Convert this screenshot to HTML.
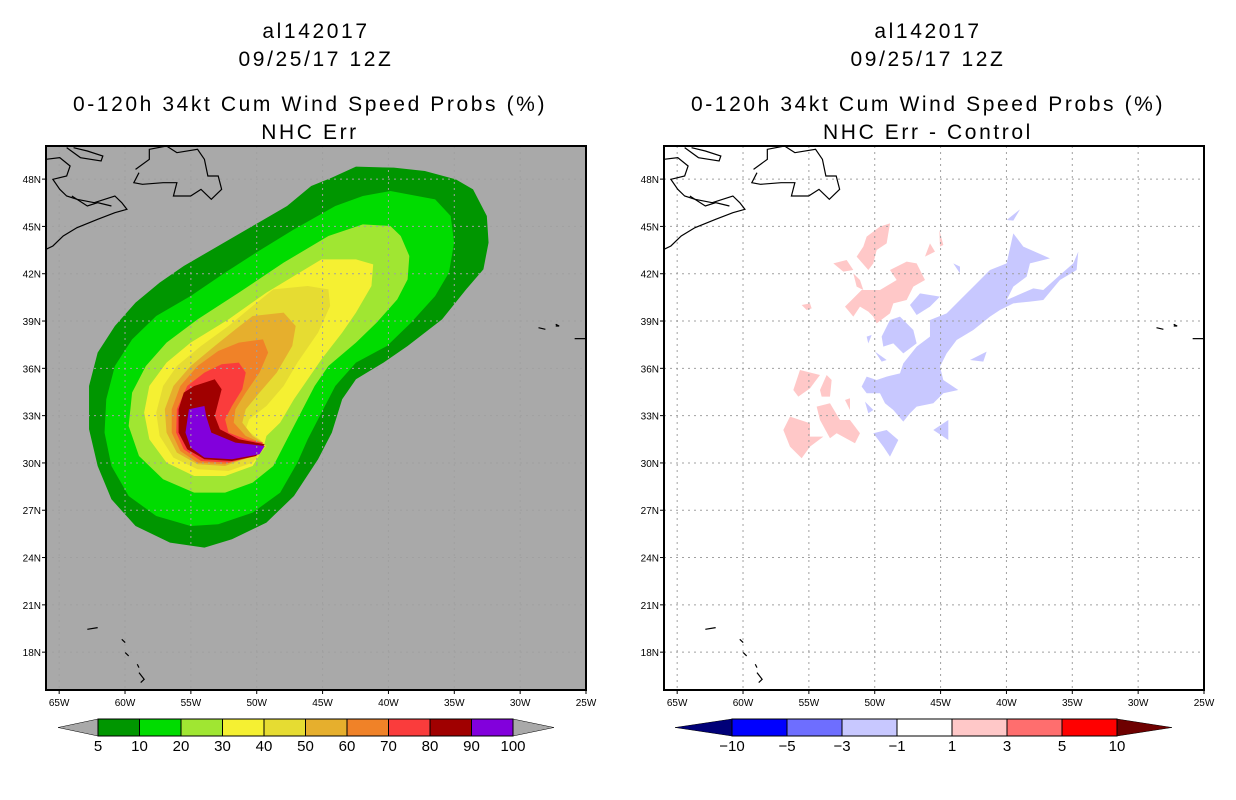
<!DOCTYPE html>
<html><head><meta charset="utf-8"><style>
body{margin:0;background:#fff;width:1236px;height:800px;overflow:hidden}
svg{display:block}
text{font-family:"Liberation Sans",sans-serif;fill:#000}
.t{font-size:21px;letter-spacing:2.6px}
.ax{font-size:10px}
.cb{font-size:15px}
</style></head><body>
<svg id="s" width="1236" height="800">
<defs>
<g id="coast" fill="none" stroke="#000" stroke-width="1.2" transform="scale(0.3444,0.3333)">
<g style="vector-effect:non-scaling-stroke">
<polyline vector-effect="non-scaling-stroke" points="260,70 300,40 300,10 350,0 380,20 440,10 460,40 470,90 500,90 510,130 480,160 450,130 420,150 370,150 380,110 340,110 280,115 255,110 270,80"/>
<polyline vector-effect="non-scaling-stroke" points="0,40 40,35 70,60 60,90 20,100 40,130 60,150 90,160 140,170 200,150 220,170 235,190 200,200 150,220 90,245 50,270 20,300 0,310"/>
<polyline vector-effect="non-scaling-stroke" points="60,5 100,35 160,45 165,30 120,15 80,5"/>
<polyline vector-effect="non-scaling-stroke" points="75,150 120,180 150,170 190,180"/>
<polyline vector-effect="non-scaling-stroke" points="1430,545 1450,550"/><polyline vector-effect="non-scaling-stroke" points="1480,535 1490,540 1480,540"/><polyline vector-effect="non-scaling-stroke" points="1535,578 1568,578"/>
<polyline vector-effect="non-scaling-stroke" points="120,1450 150,1445"/><polyline vector-effect="non-scaling-stroke" points="220,1480 230,1490"/><polyline vector-effect="non-scaling-stroke" points="230,1520 240,1530"/><polyline vector-effect="non-scaling-stroke" points="265,1555 270,1565"/><polyline vector-effect="non-scaling-stroke" points="270,1580 285,1600 275,1610"/>
</g>
</g>
</defs>
<g id="left">
<rect x="46" y="146" width="540" height="544" fill="#a9a9a9"/>
<g id="contours" transform="translate(46,146) scale(0.3444,0.3333)"></g>
</g>
<g id="right">
<rect x="664" y="146" width="540" height="544" fill="#fff"/>
<g id="diff" transform="translate(730,180) scale(0.3333)"></g>
</g>
<g id="grids"></g>
<use href="#coast" x="46" y="146"/>
<use href="#coast" x="664" y="146"/>
<rect x="46" y="146" width="540" height="544" fill="none" stroke="#000" stroke-width="2"/>
<rect x="664" y="146" width="540" height="544" fill="none" stroke="#000" stroke-width="2"/>
<text class="t" x="316" y="38" text-anchor="middle">al142017</text>
<text class="t" x="316" y="66" text-anchor="middle">09/25/17 12Z</text>
<text class="t" x="310" y="111" text-anchor="middle">0-120h 34kt Cum Wind Speed Probs (%)</text>
<text class="t" x="310" y="139" text-anchor="middle">NHC Err</text>
<text class="t" x="928" y="38" text-anchor="middle">al142017</text>
<text class="t" x="928" y="66" text-anchor="middle">09/25/17 12Z</text>
<text class="t" x="928" y="111" text-anchor="middle">0-120h 34kt Cum Wind Speed Probs (%)</text>
<text class="t" x="928" y="139" text-anchor="middle">NHC Err - Control</text>
<g id="cbars"></g>
</svg>
<script>
const lonTicks=[-65,-60,-55,-50,-45,-40,-35,-30,-25];
const lonLabels=["65W","60W","55W","50W","45W","40W","35W","30W","25W"];
const latTicks=[18,21,24,27,30,33,36,39,42,45,48];
const latLabels=["18N","21N","24N","27N","30N","33N","36N","39N","42N","45N","48N"];
const probLevels=["5","10","20","30","40","50","60","70","80","90","100"];
const probColors=["#009600","#00dc00","#a0e632","#f5f032","#e6dc32","#e6af2d","#f08228","#fa3c3c","#a00000","#8200dc"];
const diffLevels=["-10","-5","-3","-1","1","3","5","10"];
const diffColors=["#0000ff","#6e6eff","#c8c8ff","#ffffff","#ffc8c8","#ff6e6e","#ff0000"];
const diffEnds=["#000078","#6e0000"];
const ring5=[[830,95],[900,62],[1010,65],[1100,75],[1190,100],[1240,130],[1280,210],[1285,290],[1270,370],[1220,430],[1150,520],[1050,600],[980,650],[900,700],[860,760],[830,860],[790,940],[720,1050],[640,1130],[540,1180],[460,1205],[360,1190],[260,1140],[190,1060],[150,960],[125,850],[125,720],[150,620],[200,540],[260,470],[330,410],[400,360],[500,300],[600,240],[700,180],[770,120]];
const ring10=[[840,180],[920,150],[1000,135],[1130,160],[1175,210],[1185,290],[1170,380],[1130,450],[1060,530],[990,600],[900,650],[840,720],[800,800],[760,880],[730,950],[680,1040],[600,1100],[500,1135],[420,1140],[320,1110],[240,1050],[190,960],[170,860],[175,760],[200,660],[250,580],[320,510],[420,450],[520,380],[610,320],[720,250]];
const ring20=[[820,270],[920,235],[1000,240],[1030,270],[1055,330],[1050,400],[1020,460],[960,530],[900,590],[820,660],[780,720],[740,800],[700,880],[660,960],[600,1010],[520,1040],[430,1040],[340,1000],[270,930],[240,840],[250,740],[290,660],[350,590],[440,520],[560,440],[690,350]];
const ring30=[[800,340],[900,340],[950,355],[945,420],[900,500],[860,560],[800,640],[760,700],[720,760],[680,830],[640,870],[630,910],[600,960],[520,990],[430,990],[350,950],[300,880],[285,800],[300,720],[350,650],[420,590],[530,520],[640,440],[720,390]];
const ring40=[[660,430],[760,420],[820,430],[825,480],[790,560],[730,650],[690,720],[640,780],[590,820],[580,850],[620,880],[640,900],[600,950],[530,975],[440,970],[370,935],[330,870],[320,800],[340,720],[380,660],[450,600],[530,540],[600,480]];
const ring50=[[600,510],[690,500],[725,540],[715,600],[670,680],[620,740],[580,790],[570,830],[600,870],[630,890],[600,930],[520,960],[440,955],[380,920],[350,860],[345,790],[370,720],[420,660],[490,600],[550,550]];
const ring60=[[560,590],[630,580],[645,620],[620,680],[580,740],[550,790],[545,830],[580,870],[625,890],[600,930],[520,955],[440,950],[390,915],[365,860],[365,790],[390,720],[440,660],[500,615]];
const ring70=[[510,655],[560,650],[580,680],[570,730],[540,780],[520,820],[530,860],[580,880],[630,890],[610,930],[530,950],[450,945],[400,910],[378,860],[380,790],[410,720],[460,680]];
const ring80=[[430,720],[490,700],[510,730],[500,770],[490,810],[505,850],[560,880],[635,895],[610,930],[540,945],[460,940],[410,910],[385,860],[385,790],[400,740]];
const ring90=[[415,790],[460,780],[465,810],[480,860],[550,890],[635,900],[620,925],[540,940],[460,935],[420,905],[405,860]];
const blueBlobs=[
[[850,160],[880,200],[960,235],[900,250],[890,290],[850,320],[830,360],[910,325],[940,330],[990,285],[1030,250],[1045,215],[1040,270],[990,300],[940,360],[900,365],[850,370],[810,390],[780,410],[730,450],[680,480],[650,520],[630,560],[640,600],[685,630],[640,640],[610,670],[560,680],[540,700],[520,725],[490,690],[465,670],[450,640],[410,640],[395,620],[410,590],[440,600],[470,590],[510,580],[520,550],[560,500],[600,470],[600,420],[650,400],[690,360],[740,310],[780,270],[830,250]],
[[480,420],[510,410],[550,450],[560,490],[520,520],[490,490],[460,500],[455,470]],
[[540,375],[570,340],[630,350],[600,380],[560,405]],
[[430,760],[470,750],[505,780],[480,830],[460,800]],
[[610,750],[655,720],[655,780]],
[[405,665],[430,690],[415,700]],
[[720,540],[770,515],[760,545]],
[[830,120],[870,88],[850,122]],
[[670,250],[690,260],[690,280]],[[410,470],[425,465],[415,490]],[[435,515],[470,540],[455,545]]];
const pinkBlobs=[
[[160,750],[180,710],[240,730],[240,770],[280,770],[240,800],[215,835],[180,800]],
[[260,680],[300,670],[330,720],[360,720],[390,760],[375,790],[320,760],[300,775],[270,720]],
[[190,630],[210,570],[270,585],[240,625],[205,650]],
[[270,630],[290,585],[305,600],[300,650],[275,650]],
[[345,380],[380,345],[395,330],[450,330],[500,300],[480,270],[530,245],[560,250],[585,300],[550,320],[530,360],[490,370],[480,400],[440,430],[430,410],[415,395],[390,380],[370,410]],
[[380,230],[400,200],[410,170],[450,140],[480,130],[470,190],[440,210],[430,250],[415,270]],
[[310,250],[350,240],[370,270],[340,275]],
[[370,280],[390,300],[400,330],[380,320]],
[[585,230],[600,190],[615,215]],
[[628,150],[640,195],[630,200]],
[[215,375],[240,370],[245,385],[230,390]],[[345,660],[360,655],[360,690]]];

const NS='http://www.w3.org/2000/svg';
function mk(tag,attrs,parent){const e=document.createElementNS(NS,tag);for(const k in attrs)e.setAttribute(k,attrs[k]);parent.appendChild(e);return e;}
const pts=r=>r.map(p=>p.join(',')).join(' ');
const L0=-66,L1=-25,B0=15.6,B1=50.1,W=540,H=544,T=146;
const xL=(lon,x0)=>x0+(lon-L0)/(L1-L0)*W;
const yL=lat=>T+(B1-lat)/(B1-B0)*H;

const cg=document.getElementById('contours');
const rings=[ring5,ring10,ring20,ring30,ring40,ring50,ring60,ring70,ring80,ring90];
rings.forEach((r,i)=>{
 const p=mk('polygon',{points:pts(r),fill:probColors[i],'stroke-linejoin':'round'},cg);
 
 
});
const dg=document.getElementById('diff');
blueBlobs.forEach(r=>{const p=mk('polygon',{points:pts(r),fill:'#c8c8ff'},dg);
 
 });
pinkBlobs.forEach(r=>{const p=mk('polygon',{points:pts(r),fill:'#ffc8c8'},dg);
 
 });

const gg=document.getElementById('grids');
[46,664].forEach((x0,pi)=>{
 lonTicks.forEach((lon,i)=>{
  const x=xL(lon,x0);
  if(lon>-66&&lon<-25){const g=mk('line',{x1:x,x2:x,y1:T,y2:T+H,stroke:'#a0a0a0','stroke-dasharray':'2,4'},gg);
   
   }
  const tk=mk('line',{x1:x,x2:x,y1:T+H,y2:T+H+4,stroke:'#000'},gg);
  
  
  const t=mk('text',{x:x,y:T+H+16,'text-anchor':'middle',class:'ax'},gg);t.textContent=lonLabels[i];
  
  
 });
 latTicks.forEach((lat,i)=>{
  const y=yL(lat);
  const g=mk('line',{x1:x0,x2:x0+W,y1:y,y2:y,stroke:'#a0a0a0','stroke-dasharray':'2,4'},gg);
  
  
  const tk=mk('line',{x1:x0-4,x2:x0,y1:y,y2:y,stroke:'#000'},gg);
  
  
  const t=mk('text',{x:x0-5,y:y+4,'text-anchor':'end',class:'ax'},gg);t.textContent=latLabels[i];
  
  
 });
});

const cb=document.getElementById('cbars');
function colorbar(x0,x1,tipL,tipR,colors,labels,endL,endR,name){
 const y0=719,y1=736,w=(x1-x0)/colors.length,ym=(y0+y1)/2;
 const a=mk('polygon',{points:`${tipL},${ym} ${x0},${y0} ${x0},${y1}`,fill:endL,stroke:'#000','stroke-width':0.5},cb);
 
 
 const b=mk('polygon',{points:`${tipR},${ym} ${x1},${y0} ${x1},${y1}`,fill:endR,stroke:'#000','stroke-width':0.5},cb);
 
 
 colors.forEach((c,i)=>{const r=mk('rect',{x:x0+i*w,y:y0,width:w,height:y1-y0,fill:c,stroke:'#000','stroke-width':1},cb);
  
  });
 labels.forEach((l,i)=>{const t=mk('text',{x:x0+i*w,y:751,'text-anchor':'middle',class:'cb'},cb);t.textContent=l.replace('-','\u2212');
  
  });
}
colorbar(98,513,58,554,probColors,probLevels,'#a9a9a9','#a9a9a9','prob-colorbar');
colorbar(732,1117,675,1172,diffColors,diffLevels,diffEnds[0],diffEnds[1],'diff-colorbar');
</script>
</body></html>
